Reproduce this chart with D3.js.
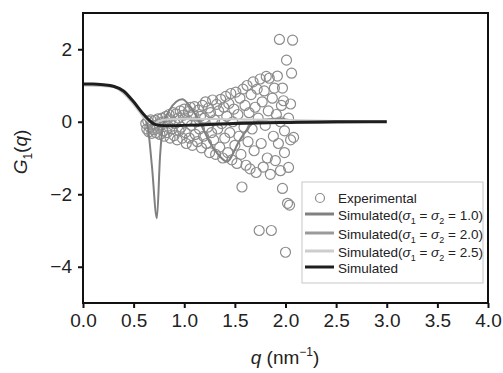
<!DOCTYPE html>
<html>
<head>
<meta charset="utf-8">
<script src="https://cdn.jsdelivr.net/npm/d3@7"></script>
<style>
  body { margin: 0; background: #fff; }
  svg { font-family: "Liberation Sans", Arial, sans-serif; }
  .tick text { font-size: 19px; fill: #222; }
</style>
</head>
<body>
<svg id="chart" width="503" height="373"></svg>
<script>
// Experimental points [q, G1]
const experimental = [
  [0.62, -0.05], [0.63, -0.20], [0.64, 0.02], [0.65, -0.28], [0.66, -0.15], [0.67, 0.05], [0.68, -0.32], [0.69, -0.10],
  [0.70, -0.22], [0.71, 0.04], [0.72, -0.30], [0.73, -0.18], [0.74, 0.08], [0.75, -0.08], [0.76, -0.35], [0.77, -0.02],
  [0.78, 0.10], [0.79, -0.25], [0.80, -0.40], [0.81, 0.00], [0.82, 0.15], [0.83, -0.30], [0.84, -0.12], [0.85, 0.20],
  [0.86, -0.45], [0.87, 0.05], [0.88, -0.20], [0.89, 0.25], [0.90, -0.38], [0.91, -0.05], [0.92, 0.22], [0.93, -0.50],
  [0.94, 0.10], [0.95, -0.25], [0.96, 0.30], [0.97, -0.15], [0.98, -0.45], [0.99, 0.18], [1.00, 0.35], [1.01, -0.30],
  [1.02, -0.60], [1.03, 0.05], [1.04, 0.28], [1.05, -0.45], [1.06, 0.40], [1.07, -0.10], [1.08, -0.65], [1.09, 0.20],
  [1.10, 0.42], [1.11, -0.35], [1.12, 0.00], [1.13, -0.55], [1.14, 0.32], [1.15, -0.20], [1.16, 0.15], [1.17, -0.72],
  [1.18, 0.45], [1.19, -0.40], [1.20, 0.10], [1.21, 0.55], [1.22, -0.60], [1.23, -0.15], [1.24, 0.38], [1.25, -0.85],
  [1.26, 0.25], [1.27, -0.30], [1.28, 0.60], [1.29, -0.50], [1.30, 0.05], [1.31, -0.90], [1.32, 0.48], [1.33, -0.20],
  [1.34, 0.30], [1.35, -0.70], [1.36, 0.62], [1.37, -0.05], [1.38, -1.00], [1.39, 0.40], [1.40, -0.45], [1.41, 0.70],
  [1.42, 0.15], [1.43, -0.85], [1.44, 0.50], [1.45, -0.30], [1.46, 0.78], [1.47, -1.05], [1.48, 0.00], [1.49, 0.35],
  [1.50, -0.65], [1.51, 0.82], [1.52, -1.15], [1.53, 0.20], [1.54, -0.40], [1.55, 0.65], [1.56, -0.90], [1.57, -1.80],
  [1.58, 0.90], [1.59, -0.15], [1.60, 0.45], [1.61, -1.20], [1.62, 1.00], [1.63, -0.55], [1.64, 0.25], [1.65, -1.30],
  [1.66, 0.75], [1.67, -0.20], [1.68, 1.10], [1.69, -0.80], [1.70, 0.40], [1.71, -1.40], [1.72, 0.90], [1.73, 0.10],
  [1.74, -3.00], [1.75, 1.18], [1.76, -0.60], [1.77, 0.55], [1.78, -1.25], [1.79, 0.85], [1.80, -0.10], [1.81, 1.25],
  [1.82, -1.00], [1.83, 0.30], [1.84, 1.20], [1.85, -1.45], [1.86, -3.00], [1.87, 0.65], [1.88, -0.40], [1.89, 0.93],
  [1.90, -1.07], [1.91, 0.20], [1.92, 1.26], [1.93, -0.60], [1.94, 2.27], [1.95, -1.35], [1.96, 0.45], [1.97, -1.84],
  [1.98, 0.58], [1.99, -0.25], [2.00, -3.60], [2.01, 1.70], [2.02, -2.25], [2.03, 0.10], [2.04, -2.30], [2.05, 0.49],
  [2.06, 1.34], [2.07, 2.25], [2.08, -0.43], [1.97, 0.93], [2.03, -1.26], [1.99, -0.85], [2.05, -0.50], [1.95, 0.00]
];

// Simulated curves
const qSim1 = [0, 0.30, 0.40, 0.50, 0.60, 0.64, 0.68, 0.73, 0.76, 0.79, 0.85, 0.92, 0.98, 1.05, 1.15, 1.25, 1.35, 1.42, 1.55, 1.70, 1.90, 2.20, 3.00];
const gSim1 = [1.02, 0.98, 0.82, 0.52, 0.15, -0.15, -1.20, -2.66, -1.00, -0.10, 0.30, 0.55, 0.62, 0.45, 0.00, -0.55, -0.95, -1.10, -0.50, 0.00, 0.08, 0.00, 0.00];

const qSim2 = [0, 0.30, 0.40, 0.50, 0.60, 0.65, 0.70, 0.75, 0.80, 0.90, 1.00, 1.10, 1.20, 1.40, 1.60, 2.00, 3.00];
const gSim2 = [1.02, 0.97, 0.80, 0.50, 0.12, -0.10, -0.32, -0.28, -0.15, 0.05, 0.12, 0.05, -0.05, -0.05, 0.00, -0.03, 0.00];

const qSim25 = [0, 0.30, 0.40, 0.50, 0.60, 0.65, 0.70, 0.75, 0.85, 1.00, 1.50, 2.00, 2.50, 3.00];
const gSim25 = [1.00, 0.96, 0.78, 0.48, 0.12, 0.00, -0.05, 0.02, 0.07, 0.08, 0.07, 0.05, 0.02, 0.00];

const qSim = [0, 0.10, 0.20, 0.30, 0.40, 0.50, 0.60, 0.70, 0.75, 0.85, 1.00, 1.20, 1.50, 2.00, 2.50, 3.00];
const gSim = [1.04, 1.04, 1.02, 0.98, 0.85, 0.55, 0.20, -0.06, -0.10, -0.11, -0.10, -0.08, -0.05, -0.02, 0.00, 0.00];

const xTicks = [0, 0.5, 1.0, 1.5, 2.0, 2.5, 3.0, 3.5, 4.0];
const yTicks = [2, 0, -2, -4];

const svg = d3.select("#chart");
const plot = {left: 83, right: 488, top: 13, bottom: 303};

const x = d3.scaleLinear().domain([0, 4]).range([plot.left, plot.right]);
const y = d3.scaleLinear().domain([-5, 3]).range([plot.bottom, plot.top]);

// Axes
const xAxis = svg.append("g")
    .attr("transform", `translate(0,${plot.bottom})`)
    .call(d3.axisBottom(x).tickValues(xTicks).tickFormat(d3.format(".1f")).tickSize(5).tickPadding(6));
xAxis.select(".domain").remove();
xAxis.selectAll(".tick line").attr("stroke", "#111").attr("stroke-width", 2);

const yAxis = svg.append("g")
    .attr("transform", `translate(${plot.left},0)`)
    .call(d3.axisLeft(y).tickValues(yTicks).tickFormat(d => d < 0 ? "\u2212" + Math.abs(d) : d).tickSize(5).tickPadding(6));
yAxis.select(".domain").remove();
yAxis.selectAll(".tick line").attr("stroke", "#111").attr("stroke-width", 2);

// Experimental circles
svg.append("g")
    .selectAll("circle")
    .data(experimental)
    .join("circle")
    .attr("cx", d => x(d[0]))
    .attr("cy", d => y(d[1]))
    .attr("r", 5)
    .attr("fill", "none")
    .attr("stroke", "#8c8c8c")
    .attr("stroke-width", 1.2);

// Simulated lines
const line = d3.line()
    .x(d => x(d[0]))
    .y(d => y(d[1]))
    .curve(d3.curveMonotoneX);

const series = [
    {q: qSim2, g: gSim2, color: "#9a9a9a", width: 2},
    {q: qSim1, g: gSim1, color: "#808080", width: 2},
    {q: qSim25, g: gSim25, color: "#cdcdcd", width: 2},
    {q: qSim, g: gSim, color: "#1e1e1e", width: 3}
];

svg.append("g")
    .selectAll("path")
    .data(series)
    .join("path")
    .attr("fill", "none")
    .attr("stroke", d => d.color)
    .attr("stroke-width", d => d.width)
    .attr("stroke-linejoin", "round")
    .attr("d", d => line(d.q.map((q, i) => [q, d.g[i]])));

// Frame
svg.append("rect")
    .attr("x", plot.left)
    .attr("y", plot.top)
    .attr("width", plot.right - plot.left)
    .attr("height", plot.bottom - plot.top)
    .attr("fill", "none")
    .attr("stroke", "#111")
    .attr("stroke-width", 2);

// Axis titles
svg.append("text")
    .attr("x", 285)
    .attr("y", 364)
    .attr("text-anchor", "middle")
    .attr("font-size", 19)
    .attr("fill", "#222")
    .call(t => {
        t.append("tspan").attr("font-style", "italic").text("q");
        t.append("tspan").text(" (nm");
        t.append("tspan").attr("font-size", 12).attr("dy", -8).text("\u22121");
        t.append("tspan").attr("dy", 8).text(")");
    });

svg.append("text")
    .attr("transform", "translate(27,152) rotate(-90)")
    .attr("text-anchor", "middle")
    .attr("font-size", 19)
    .attr("fill", "#222")
    .call(t => {
        t.append("tspan").attr("font-style", "italic").text("G");
        t.append("tspan").attr("font-size", 12).attr("dy", 5).text("1");
        t.append("tspan").attr("dy", -5).text("(");
        t.append("tspan").attr("font-style", "italic").text("q");
        t.append("tspan").text(")");
    });

// Legend
const legend = svg.append("g");
legend.append("rect")
    .attr("x", 302).attr("y", 182)
    .attr("width", 181).attr("height", 101)
    .attr("fill", "#fff")
    .attr("stroke", "#c8c8c8")
    .attr("stroke-width", 1);

const legendItems = [
    {label: "Experimental", type: "circle", y: 199},
    {label: "1.0", type: "line", color: "#808080", y: 216},
    {label: "2.0", type: "line", color: "#9a9a9a", y: 235},
    {label: "2.5", type: "line", color: "#cdcdcd", y: 253},
    {label: "Simulated", type: "line", color: "#1e1e1e", y: 269}
];

legendItems.forEach(item => {
    if (item.type === "circle") {
        legend.append("circle")
            .attr("cx", 320).attr("cy", item.y - 1).attr("r", 4.5)
            .attr("fill", "none").attr("stroke", "#8c8c8c").attr("stroke-width", 1.2);
    } else {
        legend.append("line")
            .attr("x1", 305).attr("x2", 334)
            .attr("y1", item.y - 2).attr("y2", item.y - 2)
            .attr("stroke", item.color).attr("stroke-width", 3);
    }
    const t = legend.append("text")
        .attr("x", 338)
        .attr("y", item.y + 4)
        .attr("font-size", 13.5)
        .attr("fill", "#222");
    if (item.type === "circle" || item.label === "Simulated") {
        t.text(item.label);
    } else {
        t.append("tspan").text("Simulated(");
        t.append("tspan").attr("font-style", "italic").text("\u03c3");
        t.append("tspan").attr("font-size", 9).attr("dy", 4).text("1");
        t.append("tspan").attr("dy", -4).text(" = ");
        t.append("tspan").attr("font-style", "italic").text("\u03c3");
        t.append("tspan").attr("font-size", 9).attr("dy", 4).text("2");
        t.append("tspan").attr("dy", -4).text(" = " + item.label + ")");
    }
});
</script>
</body>
</html>
